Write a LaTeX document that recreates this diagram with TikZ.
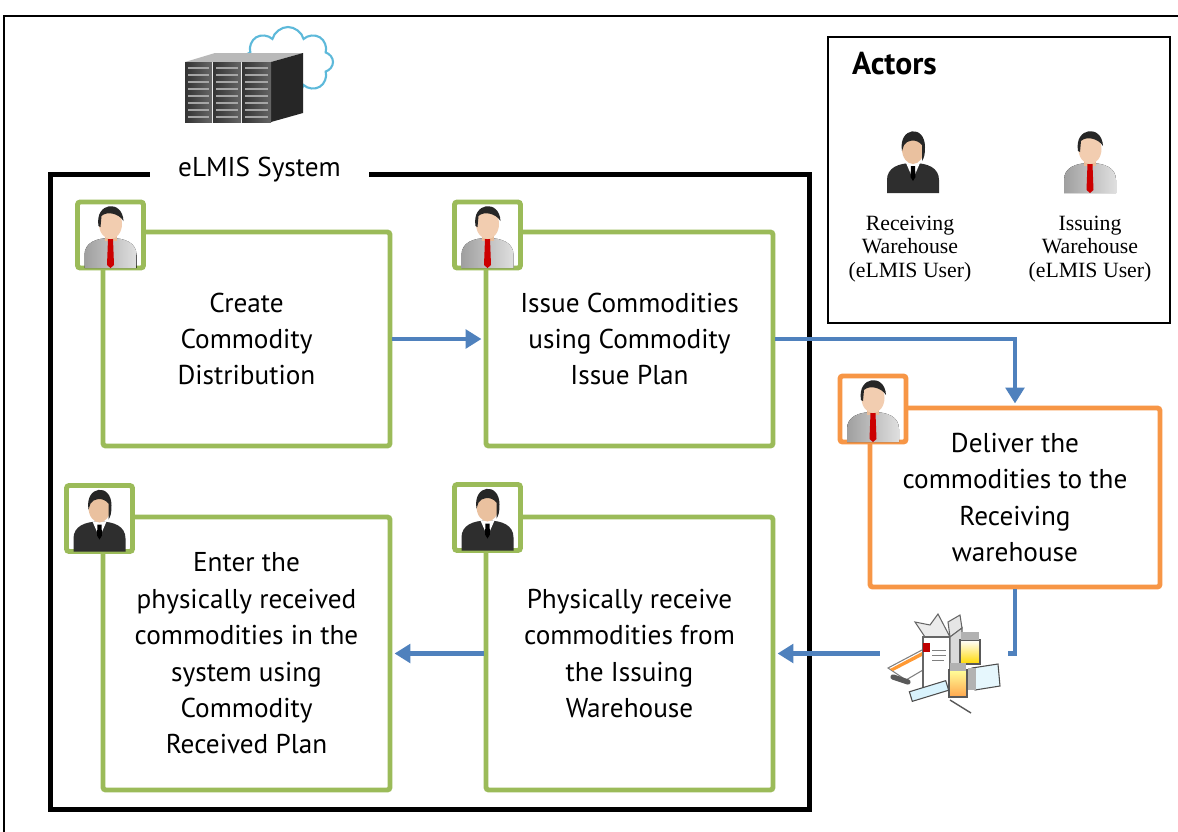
\documentclass[tikz,border=0pt]{standalone}
\usepackage{fontspec}
\setmainfont{PT Sans}
\newfontfamily\actorfont{Liberation Serif}
\usetikzlibrary{arrows.meta,shapes.symbols}

\definecolor{taskgreen}{HTML}{9BBB59}
\definecolor{deliverorange}{HTML}{F79646}
\definecolor{flowblue}{HTML}{4F81BD}
\definecolor{skin}{HTML}{F2CDB0}
\definecolor{hair}{HTML}{262626}
\definecolor{cloudblue}{HTML}{5DB9DA}
\definecolor{suit}{HTML}{2E2E2E}

\begin{document}
\begin{tikzpicture}[x=0.02cm,y=-0.02cm]
\tikzset{task/.style={draw=taskgreen,line width=2.8pt,rounded corners=1.5pt,fill=white,align=center,inner sep=0pt,
  minimum width=5.74cm,font=\fontsize{15.5}{20.7}\selectfont}}
\tikzset{delivery/.style={task,draw=deliverorange,minimum width=5.8cm,minimum height=3.58cm}}
\tikzset{avatar/.style={draw=taskgreen,line width=2.8pt,rounded corners=1.5pt,fill=white,minimum size=1.32cm,inner sep=0pt}}
\tikzset{flow/.style={draw=flowblue,line width=2.7pt,shorten >=1.2pt,-{Triangle[length=9pt,width=10.5pt]}}}
\tikzset{actorlabel/.style={align=center,font=\actorfont\fontsize{12.4}{13.6}\selectfont}}

% people: grey shirt with red tie / dark suit
\tikzset{pics/issuer/.style={code={
  \fill[left color=gray!75,right color=gray!25] (-26,33) -- (-26,20) .. controls (-26,8) and (-15,3) .. (0,3)
    .. controls (15,3) and (26,8) .. (26,20) -- (26,33) -- cycle;
  \fill[skin!80!brown] (-6,-4) rectangle (6,6);
  \fill[red!80!black] (-2.5,4) -- (2.5,4) -- (3.5,30) -- (0,33) -- (-3.5,30) -- cycle;
  \fill[skin] (0,-11) ellipse [x radius=11.5,y radius=15];
  \fill[hair] (-12,-9) .. controls (-16,-33) and (12,-36) .. (13,-14)
    .. controls (8,-22) and (-4,-24) .. (-9,-19) -- (-10,-8) -- cycle;
}}}
\tikzset{pics/receiver/.style={code={
  \fill[suit] (-26,33) -- (-26,20) .. controls (-26,8) and (-15,3) .. (0,3)
    .. controls (15,3) and (26,8) .. (26,20) -- (26,33) -- cycle;
  \fill[white] (-7,3) -- (7,3) -- (0,19) -- cycle;
  \fill[black] (-2,6) -- (2,6) -- (2.5,17) -- (0,21) -- (-2.5,17) -- cycle;
  \fill[skin!85!brown] (0,-11) ellipse [x radius=11,y radius=15];
  \fill[hair] (-11,-9) .. controls (-15,-33) and (12,-36) .. (12,-13)
    .. controls (12,-5) and (11,-2) .. (9,1) -- (9,-15) .. controls (3,-22) and (-6,-20) .. (-9,-15) -- cycle;
}}}

\useasboundingbox (0,0) rectangle (1178,832);
\fill[white] (0,0) rectangle (1178,832);

% outer frame
\draw[line width=1.1pt] (4,832) -- (4,16) -- (1178,16);

% server rack with cloud
\node[cloud,cloud puffs=8,draw=cloudblue,line width=1.2pt,minimum width=1.8cm,minimum height=1.4cm] (cloud) at (288,62) {};
\fill[gray!55] (185,62) -- (215,53) -- (303,53) -- (271,62) -- cycle;
\fill[black!85] (271,62) -- (303,53) -- (303,113) -- (271,122) -- cycle;
\foreach \xa/\xb in {185/212,213/241,242/271} {
  \fill[left color=black!80,right color=black!60] (\xa,62) rectangle (\xb,122);
  \foreach \sy in {68,75,...,117}
    \draw[gray!70,line width=0.6pt] (\xa+3,\sy) -- (\xb-3,\sy);
}

% eLMIS system frame
\draw[line width=2.8pt] (50.5,174.5) rectangle (809.5,809.5);
\node[fill=white,inner xsep=0.56cm,font=\fontsize{15.5}{18}\selectfont] (system) at (259.5,170) {eLMIS System};

% actors legend
\node[draw,line width=0.85pt,minimum width=6.84cm,minimum height=5.72cm] (actors) at (999,180) {};
\node[anchor=west,font=\bfseries\fontsize{18}{20}\selectfont] (actorstitle) at (846,64) {Actors};
\pic at (913,160) {receiver};
\pic at (1090,160) {issuer};
\node[actorlabel] (reclabel) at (910,249) {Receiving\\Warehouse\\(eLMIS User)};
\node[actorlabel] (isslabel) at (1090,249) {Issuing\\Warehouse\\(eLMIS User)};

% tasks
\node[task,minimum height=4.28cm] (create) at (246.5,339) {Create\\Commodity\\Distribution};
\node[task,minimum height=4.28cm] (issue) at (629.5,339) {Issue Commodities\\using Commodity\\Issue Plan};
\node[task,minimum height=5.46cm] (enter) at (246.5,653.5) {Enter the\\physically received\\commodities in the\\system using\\Commodity\\Received Plan};
\node[task,minimum height=5.46cm] (receive) at (629.5,653.5) {Physically receive\\commodities from\\the Issuing\\Warehouse};
\node[delivery] (deliver) at (1015,497.5) {Deliver the\\commodities to the\\Receiving\\warehouse};

% avatars on the task corners
\node[avatar] (createicon) at (110.5,235) {};
\pic at (createicon) {issuer};
\node[avatar] (issueicon) at (487.5,235) {};
\pic at (issueicon) {issuer};
\node[avatar] (entericon) at (99.5,518.5) {};
\pic at (entericon) {receiver};
\node[avatar] (receiveicon) at (487.5,517.5) {};
\pic at (receiveicon) {receiver};
\node[avatar,draw=deliverorange] (delivericon) at (873,409) {};
\pic at (delivericon) {issuer};

% flow
\draw[flow] (create.east) -- (issue.west);
\draw[flow] (issue.east) -| (deliver.north);
\draw[flow] (deliver.south) |- (receive.east);
\draw[flow] (receive.west) -- (enter.east);

% medicines
\fill[white] (880,600) rectangle (1008,716);
\draw[gray,line width=0.6pt,fill=white] (888,668) -- (922,650) -- (940,660) -- (906,680) -- cycle;
\fill[orange!80] (890,669) -- (922,652) -- (924,655) -- (893,671) -- cycle;
\draw[gray!80!black,line width=0.6pt,fill=gray!15] (915,622) -- (925,637) -- (950,637) -- (938,614) -- (930,625) -- cycle;
\draw[gray!80!black,line width=0.6pt,fill=gray!20] (950,637) -- (962,628) -- (960,615) -- (948,622) -- cycle;
\draw[gray!80!black,line width=0.6pt,fill=white] (923,637) rectangle (950,690);
\draw[gray!80!black,line width=0.6pt,fill=gray!30] (950,637) -- (962,628) -- (962,682) -- (950,690) -- cycle;
\fill[red!75!black] (923,643) rectangle (930,652);
\draw[gray,line width=0.5pt] (932,650) -- (946,650) (932,655) -- (946,655) (932,660) -- (944,660);
% upright vial, back
\draw[gray!70!black,line width=0.6pt,top color=white,bottom color=yellow!70!orange] (960,640) rectangle (980,664);
\fill[gray!60] (961,632) rectangle (979,640);
% lying vial
\draw[gray!60!black,line width=0.6pt,fill=cyan!10] (972,668) -- (998,664) -- (1000,686) -- (975,690) -- cycle;
\fill[gray!60] (968,668) rectangle (976,690);
% upright vial, front
\draw[gray!70!black,line width=0.6pt,top color=yellow!40,bottom color=orange!70] (949,670) rectangle (967,697);
\fill[gray!60] (950,663) rectangle (966,671);
% syringe
\draw[gray!70!black,line width=3pt,line cap=round] (893,677) -- (908,682);
\draw[gray!60!black,line width=0.6pt,fill=cyan!15,rotate around={17:(929,691)}] (910,686) rectangle (948,696);
\draw[gray!70!black,line width=0.8pt] (950,700) -- (971,713);
\end{tikzpicture}
\end{document}
